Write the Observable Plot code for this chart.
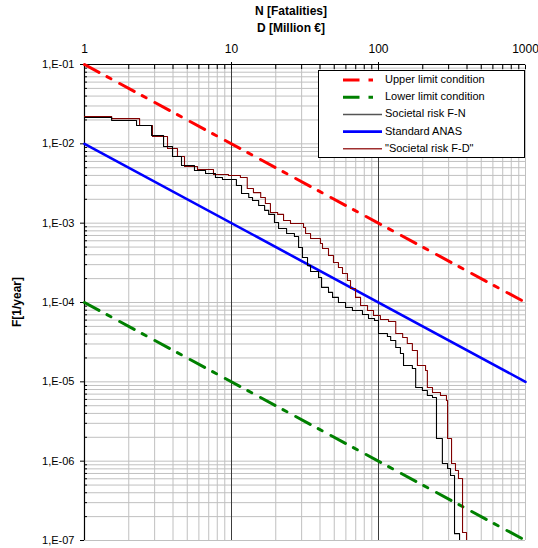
<!DOCTYPE html>
<html><head><meta charset="utf-8">
<script src="https://cdn.jsdelivr.net/npm/d3@7"></script>
<script src="https://cdn.jsdelivr.net/npm/@observablehq/plot@0.6"></script>
<style>body{margin:0;background:#fff;} svg{display:block;}</style>
</head><body><div id="chart"></div>
<script>
const xTicks = [1, 10, 100, 1000];
const xTickLabels = ["1", "10", "100", "1000"];
const yTicks = [1e-1, 1e-2, 1e-3, 1e-4, 1e-5, 1e-6, 1e-7];
const yTickLabels = ["1,E-01", "1,E-02", "1,E-03", "1,E-04", "1,E-05", "1,E-06", "1,E-07"];

const limitN = [1, 1000];
const upperF = [1e-1, 1e-4];
const lowerF = [1e-4, 1e-7];
const anasF = [1e-2, 1e-5];

const fnN = [1, 1.53, 2.26, 2.86, 3.45, 3.97, 4.57, 5.60, 6.66, 7.78, 8.68, 10.8, 11.7, 13.1, 13.9, 15.3, 16.8, 17.9, 19.6, 20.9, 23.7, 26.8, 28.6, 30.4, 32.9, 34.5, 39.1, 41.0, 45.7, 48.7, 53.4, 59.7, 66.5, 77.8, 85.5, 94.0, 100, 115, 121, 131, 141, 148, 170, 179, 199, 215, 233, 248, 272, 295, 309, 329, 356];
const fnF = [0.0215, 0.0197, 0.0170, 0.01274, 0.00925, 0.00692, 0.00533, 0.00461, 0.00423, 0.00376, 0.00355, 0.00298, 0.00237, 0.00211, 0.00193, 0.00167, 0.00145, 0.00129, 0.00102, 0.000857, 0.000741, 0.000679, 0.000493, 0.000369, 0.000292, 0.000246, 0.000207, 0.000155, 0.000134, 0.000116, 0.000100, 8.65e-5, 7.93e-5, 7.06e-5, 6.28e-5, 5.93e-5, 4.06e-5, 3.72e-5, 3.32e-5, 2.71e-5, 2.28e-5, 1.61e-5, 1.47e-5, 8.48e-6, 7.78e-6, 6.73e-6, 6.34e-6, 1.93e-6, 9.33e-7, 8.07e-7, 6.59e-7, 1.22e-7, 5e-8];

const fdN = [1, 1.53, 2.37, 2.90, 3.67, 4.29, 4.79, 5.87, 7.54, 9.54, 11.5, 12.8, 14.1, 15.8, 17.0, 18.4, 20.6, 22.6, 25.2, 30.9, 31.9, 34.5, 40.3, 41.6, 45.7, 49.4, 53.4, 56.9, 61.5, 64.5, 69.8, 75.5, 84.2, 92.5, 103, 117, 131, 146, 157, 170, 184, 209, 215, 233, 264, 290, 295, 314, 334, 350, 373, 397];
const fdF = [0.0221, 0.0208, 0.0170, 0.01236, 0.00873, 0.00692, 0.00518, 0.00474, 0.00410, 0.00399, 0.00376, 0.00274, 0.00243, 0.00211, 0.00177, 0.00136, 0.00129, 0.00108, 0.000991, 0.000881, 0.000741, 0.000641, 0.000555, 0.000480, 0.000391, 0.000319, 0.000276, 0.000232, 0.000189, 0.000150, 0.000116, 9.16e-5, 7.93e-5, 6.86e-5, 6.11e-5, 5.76e-5, 4.06e-5, 3.62e-5, 3.04e-5, 2.48e-5, 1.61e-5, 1.39e-5, 8.48e-6, 7.33e-6, 6.73e-6, 5.81e-6, 1.93e-6, 9.33e-7, 7.62e-7, 6.04e-7, 1.26e-7, 5e-8];

const seriesNames = ["Upper limit condition", "Lower limit condition", "Societal risk F-N", "Standard ANAS", "\"Societal risk F-D\""];
const seriesColors = ["#ff0000", "#008000", "#000000", "#0000ff", "#800000"];

const font = "'Liberation Sans', Arial, Helvetica, sans-serif";
const dash = "16.5,9,4.5,10";

// grid values (log minor positions)
const xGrid = [];
for (const dec of [1, 10, 100]) for (let m = 2; m <= 9; m++) xGrid.push(m * dec);
xGrid.push(1000);
const yGrid = [];
for (let e = -7; e <= -2; e++) for (let m = 1; m <= 9; m++) yGrid.push(m * Math.pow(10, e));
const yMinor = yGrid.filter(v => !yTicks.some(t => Math.abs(t - v) / t < 1e-9));

const toRows = (N, F) => N.map((n, i) => ({N: n, F: F[i]}));
const upper = toRows(limitN, upperF);
const lower = toRows(limitN, lowerF);
const anas = toRows(limitN, anasF);
const fn = toRows(fnN, fnF);
const fd = toRows(fdN, fdF);

const chart = Plot.plot({
  width: 538, height: 548,
  marginLeft: 84, marginRight: 13, marginTop: 64, marginBottom: 8,
  style: {fontFamily: font, fontSize: "11px", color: "#000", background: "#fff", overflow: "visible"},
  x: {type: "log", domain: [1, 1000]},
  y: {type: "log", domain: [1e-7, 1e-1]},
  marks: [
    Plot.ruleY(yGrid, {stroke: "#c0c0c0", strokeWidth: 1}),
    Plot.ruleX(xGrid, {stroke: "#c0c0c0", strokeWidth: 1}),
    Plot.ruleX([10, 100], {stroke: "#3c3c3c", strokeWidth: 1}),
    Plot.axisX({anchor: "top", ticks: xTicks, tickSize: 0, tickPadding: 12, fontSize: 12,
      tickFormat: d => xTickLabels[xTicks.indexOf(d)], label: null}),
    Plot.axisX({anchor: "top", ticks: [...xGrid, 10, 100], tickSize: 4, dy: 4, fill: "none", label: null}),
    Plot.axisX({anchor: "top", ticks: [10, 100], tickSize: 3, fill: "none", label: null}),
    Plot.axisY({anchor: "left", ticks: yTicks, tickSize: 4, tickPadding: 6, fontSize: 11,
      tickFormat: d => yTickLabels[yTicks.indexOf(d)], label: null}),
    Plot.axisY({anchor: "left", ticks: yMinor, tickSize: 3, dx: 3, fill: "none", label: null}),
    Plot.ruleX([1], {stroke: "#000", strokeWidth: 1.2}),
    Plot.ruleY([1e-1], {stroke: "#000", strokeWidth: 1.2}),
    Plot.line(upper, {x: "N", y: "F", stroke: seriesColors[0], strokeWidth: 3, strokeDasharray: dash}),
    Plot.line(lower, {x: "N", y: "F", stroke: seriesColors[1], strokeWidth: 3, strokeDasharray: dash}),
    Plot.line(anas, {x: "N", y: "F", stroke: seriesColors[3], strokeWidth: 2.6}),
    Plot.line(fd, {x: "N", y: "F", stroke: seriesColors[4], strokeWidth: 1.1, curve: "step-after", clip: true}),
    Plot.line(fn, {x: "N", y: "F", stroke: seriesColors[2], strokeWidth: 1.1, curve: "step-after", clip: true})
  ]
});

document.getElementById("chart").appendChild(chart);

const svg = d3.select(chart);
// titles
svg.append("text").attr("x", 291).attr("y", 12).attr("text-anchor", "middle").attr("dominant-baseline", "middle")
  .attr("font-family", font).attr("font-size", 12).attr("font-weight", "bold").text("N [Fatalities]");
svg.append("text").attr("x", 291).attr("y", 29).attr("text-anchor", "middle").attr("dominant-baseline", "middle")
  .attr("font-family", font).attr("font-size", 12).attr("font-weight", "bold").text("D [Million €]");
svg.append("text").attr("transform", "translate(18,302) rotate(-90)").attr("text-anchor", "middle").attr("dominant-baseline", "middle")
  .attr("font-family", font).attr("font-size", 12).attr("font-weight", "bold").text("F[1/year]");

// legend
const lg = svg.append("g").attr("text-anchor", "start");
lg.append("rect").attr("x", 318.5).attr("y", 70.5).attr("width", 206).attr("height", 87)
  .attr("fill", "#fff").attr("stroke", "#000").attr("stroke-width", 1);
const legendStyle = [
  {w: 3, dash: dash, color: seriesColors[0]},
  {w: 3, dash: dash, color: seriesColors[1]},
  {w: 1.5, dash: null, color: "#555"},
  {w: 2.6, dash: null, color: seriesColors[3]},
  {w: 1.5, dash: null, color: "#a03030"}
];
seriesNames.forEach((name, i) => {
  const y = 80 + i * 17.2;
  const st = legendStyle[i];
  const ln = lg.append("line").attr("x1", 343).attr("x2", 382).attr("y1", y).attr("y2", y)
    .attr("stroke", st.color).attr("stroke-width", st.w);
  if (st.dash) ln.attr("stroke-dasharray", st.dash);
  lg.append("text").attr("x", 385).attr("y", y).attr("text-anchor", "start").attr("dominant-baseline", "middle")
    .attr("font-family", font).attr("font-size", 11).attr("fill", "#000").text(name);
});
</script>
</body></html>
